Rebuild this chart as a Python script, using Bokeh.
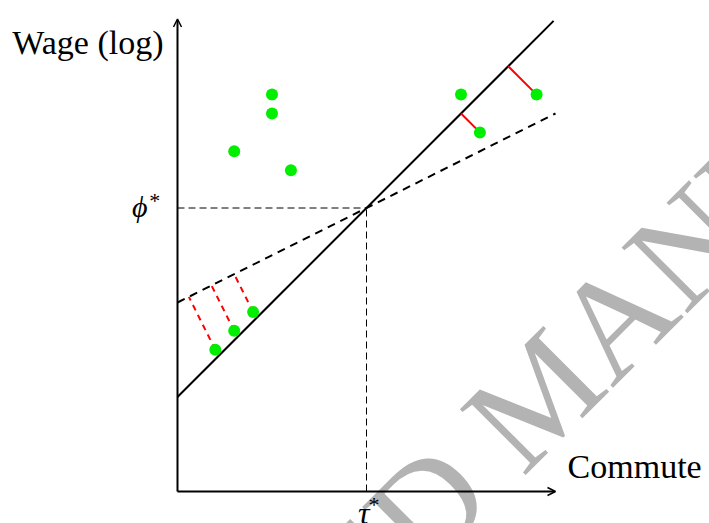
from bokeh.plotting import figure
from bokeh.models import Range1d, Label, Arrow, OpenHead
from bokeh.embed import file_html
from bokeh.resources import INLINE

# ---- data (model units) ----
solid_intercept, solid_slope = 2.5, 1.0
dashed_intercept, dashed_slope = 5.0, 0.5
line_x_end = [9.95, 10.0]          # solid, dashed
tau_star, phi_star = 5.0, 7.5
x_axis_max, y_axis_max = 10.0, 12.5

pts_x = [1.5, 2.5, 2.5, 3.0, 7.5, 8.0, 9.5, 1.0, 1.5, 2.0]
pts_y = [9.0, 10.5, 10.0, 8.5, 10.5, 9.5, 10.5, 3.75, 4.25, 4.75]
above_idx = [5, 6]        # residuals to solid line
below_idx = [7, 8, 9]     # residuals to dashed line

# ---- layout ----
W, H = 709, 523
S = 37.8           # px per unit
OX, OY = 177, 491  # origin in frame px

p = figure(width=W, height=H, output_backend="svg", toolbar_location=None,
           x_range=Range1d(-OX / S, (W - OX) / S),
           y_range=Range1d((OY - H) / S, OY / S),
           x_axis_location=None, y_axis_location=None, min_border=0)
p.grid.visible = False
p.outline_line_color = None
p.background_fill_color = "white"

# watermark
p.add_layout(Label(x=9.60, y=2.62, text="ACCEPTED MANUSCRIPT", angle=45, angle_units="deg",
                   text_font="Liberation Serif", text_font_size="142px", text_color="#b3b3b3",
                   text_align="center", text_baseline="middle", level="underlay"))

def foot(x0, y0, a, b):
    t = (x0 + b * (y0 - a)) / (1 + b * b)
    return t, a + b * t

# reference lines phi*, tau*
p.line([0, tau_star], [phi_star, phi_star], line_color="black", line_width=1, line_dash="7 4")
p.line([tau_star, tau_star], [0, phi_star], line_color="black", line_width=1, line_dash="7 4")

# regression lines
p.line([0, line_x_end[0]], [solid_intercept, solid_intercept + solid_slope * line_x_end[0]],
       line_color="black", line_width=2)
p.line([0, line_x_end[1]], [dashed_intercept, dashed_intercept + dashed_slope * line_x_end[1]],
       line_color="black", line_width=2, line_dash="8 6")

# residuals
for i in above_idx:
    fx, fy = foot(pts_x[i], pts_y[i], solid_intercept, solid_slope)
    p.line([pts_x[i], fx], [pts_y[i], fy], line_color="red", line_width=2)
for i in below_idx:
    fx, fy = foot(pts_x[i], pts_y[i], dashed_intercept, dashed_slope)
    p.line([pts_x[i], fx], [pts_y[i], fy], line_color="red", line_width=2, line_dash="6 5")

p.scatter(pts_x, pts_y, size=12, fill_color="#00ee00", line_color=None)

# axes as arrows
p.add_layout(Arrow(end=OpenHead(size=8, line_width=1.5, line_color="black"),
                   x_start=0, y_start=0, x_end=x_axis_max, y_end=0, line_width=2))
p.add_layout(Arrow(end=OpenHead(size=8, line_width=1.5, line_color="black"),
                   x_start=0, y_start=0, x_end=0, y_end=y_axis_max, line_width=2))

FONT = "Liberation Serif"
TC = "black"
p.add_layout(Label(x=-0.37, y=11.88, text="Wage (log)", text_font=FONT, text_font_size="34px",
                   text_color=TC, text_align="right", text_baseline="alphabetic"))
p.add_layout(Label(x=10.32, y=0.66, text="Commute", text_font=FONT, text_font_size="34px",
                   text_color=TC, text_align="left", text_baseline="alphabetic"))
p.add_layout(Label(x=-0.79, y=phi_star + 0.04, text="ϕ", text_font=FONT, text_font_style="italic",
                   text_color=TC, text_font_size="30px", text_align="right", text_baseline="alphabetic"))
p.add_layout(Label(x=-0.75, y=phi_star + 0.53, text="*", text_font=FONT,
                   text_color=TC, text_font_size="22px", text_align="left", text_baseline="top"))
p.add_layout(Label(x=tau_star + 0.08, y=-0.56, text="τ", text_font=FONT, text_font_style="italic",
                   text_color=TC, text_font_size="32px", text_align="right", text_baseline="alphabetic"))
p.add_layout(Label(x=tau_star + 0.05, y=-0.02, text="*", text_font=FONT,
                   text_color=TC, text_font_size="22px", text_align="left", text_baseline="top"))

open("out.html", "w").write(file_html(p, INLINE))
